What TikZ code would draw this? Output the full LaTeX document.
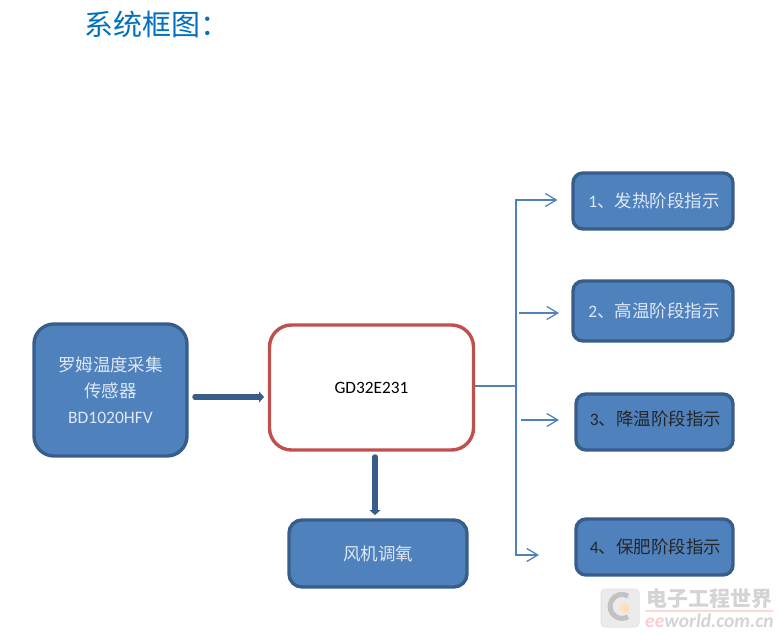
\documentclass[tikz,border=0pt]{standalone}
\usepackage{fontspec}
\setmainfont{Carlito}
\newfontfamily\cjk{Noto Sans CJK SC}
\usetikzlibrary{arrows.meta}
\definecolor{boxfill}{HTML}{4F81BD}
\definecolor{boxline}{HTML}{385D8A}
\definecolor{redline}{HTML}{C0504D}
\definecolor{titleblue}{HTML}{0070C0}
\definecolor{labelpale}{HTML}{DCE8F5}
\tikzset{
  x=1pt,y=-1pt,
  bluebox/.style={draw=boxline,line width=3.4pt,fill=boxfill,rounded corners=#1,inner sep=0pt,align=center,text=labelpale},
  bluebox/.default=10pt,
  thick arrow/.style={draw=boxline,line width=5.5pt,line cap=round,-{Triangle[length=5pt,width=11pt]}},
  thin line/.style={draw=boxfill,line width=1.25pt},
  thin arrow/.style={thin line,-{Straight Barb[length=11pt,width=13pt,line width=1.25pt]}},
  wmark/.style={inner sep=0pt,text=black!17},
}
\begin{document}
\begin{tikzpicture}
\useasboundingbox (0,0) rectangle (780,635);
% title
\node[anchor=west,inner sep=0pt,text=titleblue,font=\cjk\fontsize{29}{30}\selectfont] (title) at (84,24) {系统框图：};
% boxes
\node[bluebox=20pt,minimum width=153pt,minimum height=132pt,font=\fontsize{17.5}{26}\selectfont] (sensor) at (110.5,390)
  {{\cjk\fontsize{17.5}{26}\selectfont 罗姆温度采集}\\[0pt]{\cjk\fontsize{17.5}{26}\selectfont 传感器}\\[0pt]BD1020HFV};
\node[draw=redline,line width=3.4pt,fill=white,rounded corners=22pt,minimum width=204pt,minimum height=125pt,inner sep=0pt,font=\fontsize{17.3}{18}\selectfont] (mcu) at (371.5,387.5) {GD32E231};
\node[bluebox=13pt,minimum width=178pt,minimum height=67pt,font=\cjk\fontsize{17.5}{20}\selectfont] (fan) at (378,553.5) {风机调氧};
\node[bluebox=10pt,minimum width=160pt,minimum height=56pt,font=\fontsize{17.5}{20}\selectfont] (b1) at (653,201) {\hspace{2pt}1{\cjk 、发热阶段指示}};
\node[bluebox=10pt,minimum width=160pt,minimum height=60pt,font=\fontsize{17.5}{20}\selectfont] (b2) at (653,311) {\hspace{2pt}2{\cjk 、高温阶段指示}};
\node[bluebox=10pt,minimum width=157pt,minimum height=56pt,text=black!85,font=\fontsize{17.5}{20}\selectfont,text height=9pt,text depth=3pt] (b3) at (654.5,422) {\hspace{2pt}3{\cjk 、降温阶段指示}};
\node[bluebox=10pt,minimum width=157pt,minimum height=56pt,text=black!85,font=\fontsize{17.5}{20}\selectfont] (b4) at (654.5,547) {\hspace{2pt}4{\cjk 、保肥阶段指示}};
% free connector ends
\coordinate (trunk) at (516,386);
\coordinate (t1) at (516,200);
\coordinate (e1) at (557.5,200);
\coordinate (t4) at (516,555);
\coordinate (e4) at (539,555);
\coordinate (s2) at (519,313);
\coordinate (e2) at (559,313);
\coordinate (s3) at (521,420);
\coordinate (e3) at (559,420);
\coordinate (th1s) at (195,397);
\coordinate (th1e) at (264,397);
\coordinate (th2s) at (375,457);
\coordinate (th2e) at (375,515);
% connectors
\draw[thick arrow] (th1s) -- (th1e);
\draw[thick arrow] (th2s) -- (th2e);
\draw[thin line] (mcu.east |- trunk) -- (trunk);
\draw[thin arrow] (trunk) -- (t1) -- (e1);
\draw[thin arrow] (trunk) -- (t4) -- (e4);
\draw[thin arrow] (s2) -- (e2);
\draw[thin arrow] (s3) -- (e3);
% watermark
\draw[fill=black!8,draw=black!11,line width=1pt,rounded corners=4pt] (601,589) rectangle (639,627);
\draw[black!24,line width=5pt] (628,596) arc[start angle=60,end angle=300,radius=12pt];
\fill[orange!25] (625,608) circle (5pt);
\node[wmark,anchor=west,font=\cjk\bfseries\fontsize{21}{22}\selectfont] (wm1) at (646,599) {电子工程世界};
\fill[red!15] (645,609.5) rectangle (773,611.5);
\node[wmark,anchor=west,font=\bfseries\itshape\fontsize{19.5}{20}\selectfont] (wm2) at (645,621) {\textcolor{red!20}{ee}world.com.cn};
\end{tikzpicture}
\end{document}
